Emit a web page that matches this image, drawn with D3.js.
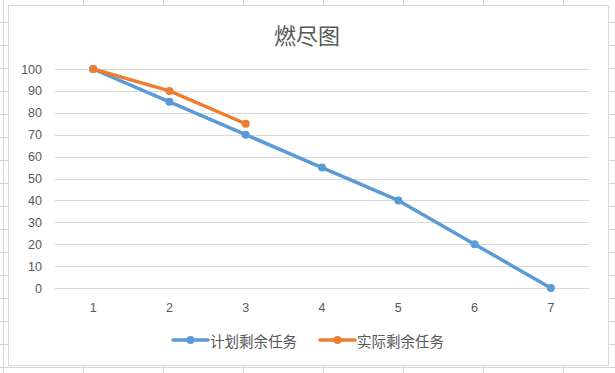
<!DOCTYPE html>
<html>
<head>
<meta charset="utf-8">
<script src="https://cdn.jsdelivr.net/npm/d3@7"></script>
<style>
  html, body { margin: 0; padding: 0; background: #fff; }
  svg { display: block; }
  text { font-family: "Liberation Sans", "Noto Sans CJK SC", sans-serif; fill: #595959; }
  .cjk { font-family: "Noto Sans CJK SC", sans-serif; }
</style>
</head>
<body>
<div id="chart"></div>
<script>
// chart data
const categories = ["1", "2", "3", "4", "5", "6", "7"];
const planned = [100, 85, 70, 55, 40, 20, 0];
const actual = [100, 90, 75];
const yTicks = [0, 10, 20, 30, 40, 50, 60, 70, 80, 90, 100];
const seriesNames = ["计划剩余任务", "实际剩余任务"];
const seriesColors = ["#5b9bd5", "#ed7d31"];
const title = "燃尽图";

const width = 615;
const height = 373;

const svg = d3.select("#chart").append("svg")
    .attr("width", width)
    .attr("height", height);

// spreadsheet cells behind the chart
const sheet = svg.append("g").attr("stroke", "#d6d6d6").attr("stroke-width", 1);
d3.range(3, width, 80).forEach(x => {
    sheet.append("line").attr("x1", x + 0.5).attr("x2", x + 0.5).attr("y1", 0).attr("y2", height);
});
d3.range(22, height, 23).forEach(y => {
    sheet.append("line").attr("x1", 0).attr("x2", width).attr("y1", y + 0.5).attr("y2", y + 0.5);
});

// chart box
svg.append("rect")
    .attr("x", 8.5).attr("y", 5.5)
    .attr("width", 600).attr("height", 360)
    .attr("fill", "#fff")
    .attr("stroke", "#d9d9d9");

const x = d3.scaleBand().domain(categories).range([55, 589]);
const y = d3.scaleLinear().domain([0, 100]).range([288, 69]);
const cx = c => x(c) + x.bandwidth() / 2;

// y axis + gridlines
const yAxis = svg.append("g")
    .attr("transform", "translate(55,0)")
    .call(d3.axisLeft(y).tickValues(yTicks).tickSize(-534).tickPadding(13));
yAxis.select(".domain").remove();
yAxis.selectAll(".tick line").attr("stroke", "#d9d9d9").attr("shape-rendering", "crispEdges");
yAxis.selectAll(".tick text").attr("font-size", 12.5).attr("fill", "#595959")
    .attr("font-family", "Liberation Sans, sans-serif");

// x axis labels
const xAxis = svg.append("g")
    .attr("transform", "translate(0,288)")
    .call(d3.axisBottom(x).tickSize(0).tickPadding(15));
xAxis.select(".domain").remove();
xAxis.selectAll(".tick text").attr("font-size", 12.5).attr("fill", "#595959")
    .attr("font-family", "Liberation Sans, sans-serif");

const line = d3.line()
    .x((d, i) => cx(categories[i]))
    .y(d => y(d));

[planned, actual].forEach((vals, s) => {
    svg.append("path")
        .datum(vals)
        .attr("fill", "none")
        .attr("stroke", seriesColors[s])
        .attr("stroke-width", 3.5)
        .attr("stroke-linejoin", "round")
        .attr("stroke-linecap", "round")
        .attr("d", line);
    svg.append("g").selectAll("circle")
        .data(vals)
        .join("circle")
        .attr("cx", (d, i) => cx(categories[i]))
        .attr("cy", d => y(d))
        .attr("r", 4)
        .attr("fill", seriesColors[s]);
});

// title
svg.append("text")
    .attr("class", "cjk")
    .attr("x", 307).attr("y", 34)
    .attr("text-anchor", "middle")
    .attr("dominant-baseline", "central")
    .attr("font-size", 22)
    .text(title);

// legend
const legendX = [173, 320];
seriesNames.forEach((name, s) => {
    const g = svg.append("g").attr("transform", `translate(${legendX[s]},340)`);
    g.append("line")
        .attr("x1", 0).attr("x2", 35)
        .attr("stroke", seriesColors[s])
        .attr("stroke-width", 3.5)
        .attr("stroke-linecap", "round");
    g.append("circle").attr("cx", 17.5).attr("r", 4).attr("fill", seriesColors[s]);
    g.append("text")
        .attr("class", "cjk")
        .attr("x", 37)
        .attr("dominant-baseline", "central")
        .attr("font-size", 14.5)
        .text(name);
});
</script>
</body>
</html>
